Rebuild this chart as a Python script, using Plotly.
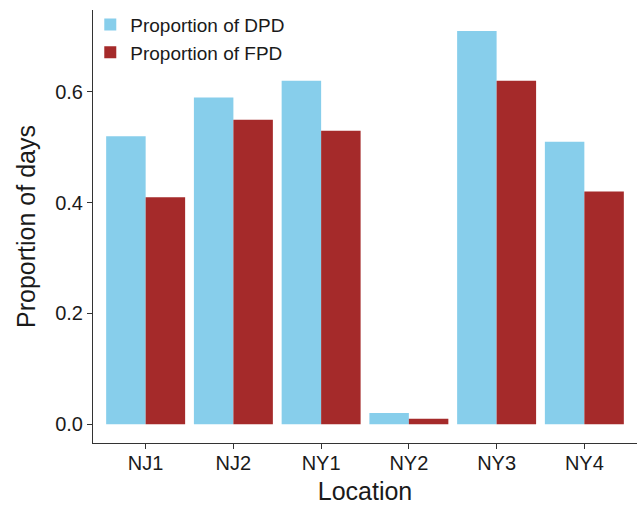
import plotly.graph_objects as go

locations = ["NJ1", "NJ2", "NY1", "NY2", "NY3", "NY4"]
dpd = [0.52, 0.59, 0.62, 0.02, 0.71, 0.51]
fpd = [0.41, 0.55, 0.53, 0.01, 0.62, 0.42]
y_ticks = [0.0, 0.2, 0.4, 0.6]
y_tick_labels = ["0.0", "0.2", "0.4", "0.6"]

FONT = "Liberation Sans, Arial, Helvetica, sans-serif"

fig = go.Figure()
fig.add_trace(go.Bar(x=locations, y=dpd, name="Proportion of DPD",
                     marker=dict(color="#87CEEB", line=dict(width=0))))
fig.add_trace(go.Bar(x=locations, y=fpd, name="Proportion of FPD",
                     marker=dict(color="#A52A2A", line=dict(width=0))))

fig.update_layout(
    width=638, height=505,
    margin=dict(l=93, r=1, t=10, b=62),
    barmode="group", bargap=0.1, bargroupgap=0,
    plot_bgcolor="white", paper_bgcolor="white",
    font=dict(family=FONT, color="#1a1a1a"),
    legend=dict(x=-0.005, y=1.01, xanchor="left", yanchor="top",
                bgcolor="rgba(0,0,0,0)", font=dict(size=19, color="#1a1a1a"),
                itemwidth=30, tracegroupgap=0),
    xaxis=dict(
        title=dict(text="Location", font=dict(size=25), standoff=16),
        range=[-0.6, 5.6], automargin=False,
        showline=True, linecolor="#333333", linewidth=1,
        ticks="outside", ticklen=5, tickcolor="#333333",
        tickfont=dict(size=20), ticklabelstandoff=-3, showgrid=False,
    ),
    yaxis=dict(
        title=dict(text="Proportion of days", font=dict(size=25), standoff=12),
        range=[-0.034, 0.748], automargin=False,
        tickvals=y_ticks, ticktext=y_tick_labels,
        showline=True, linecolor="#333333", linewidth=1,
        ticks="outside", ticklen=5, tickcolor="#333333",
        tickfont=dict(size=20), showgrid=False, zeroline=False,
    ),
)

fig.write_html("out.html")
